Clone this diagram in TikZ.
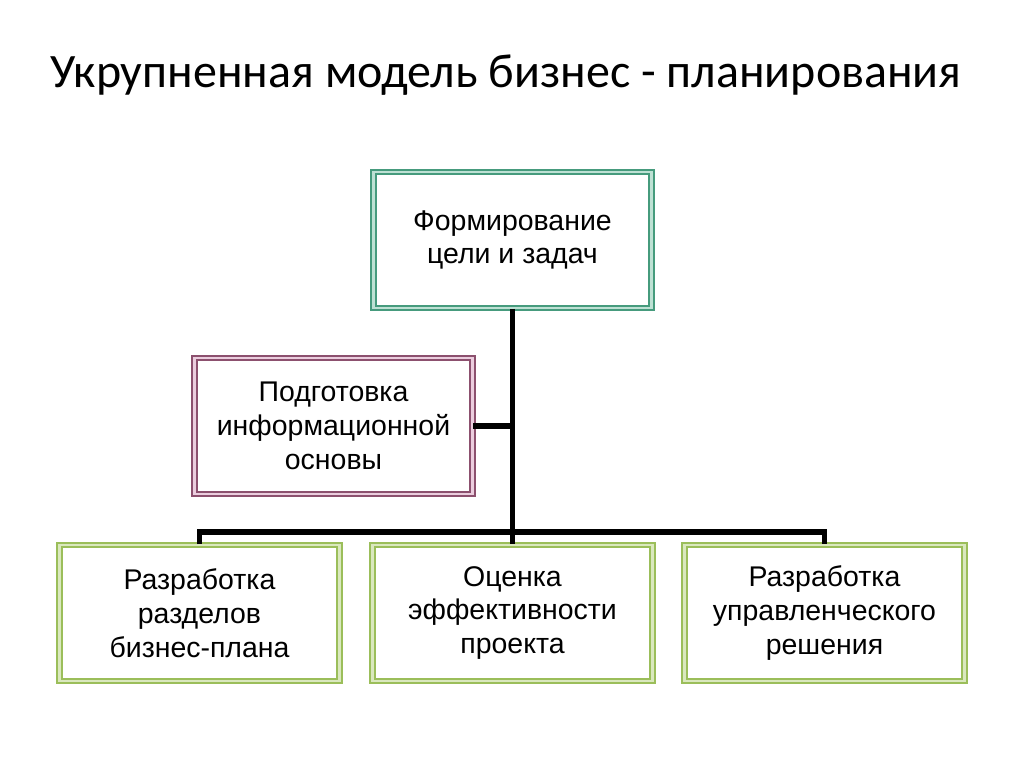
\documentclass[tikz,border=0pt]{standalone}
\usepackage{fontspec}
\setmainfont{Liberation Sans}
\newfontfamily\titlefont{Carlito}
\definecolor{tealline}{RGB}{70,155,125}
\definecolor{teallight}{RGB}{190,225,212}
\definecolor{plumline}{RGB}{140,80,110}
\definecolor{plumlight}{RGB}{235,205,222}
\definecolor{leafline}{RGB}{155,190,90}
\definecolor{leaflight}{RGB}{218,232,190}
\tikzset{
  block/.style={rectangle, align=center, font=\fontsize{16.2}{19.3}\selectfont,
    line width=1.1pt, double distance=1.6pt, minimum height=2.72cm},
  goalbox/.style={block, draw=tealline, double=teallight, minimum width=5.56cm},
  infobox/.style={block, draw=plumline, double=plumlight, minimum width=5.56cm},
  stagebox/.style={block, draw=leafline, double=leaflight, minimum width=5.6cm},
  link/.style={line width=3.2pt}
}
\begin{document}
\begin{tikzpicture}
\useasboundingbox (0,0) rectangle (20.48,15.34);
\node (title) [anchor=west, font=\titlefont\fontsize{27.3}{32}\selectfont] at (0.88,13.84)
    {Укрупненная модель бизнес - планирования};
\node (goal) [goalbox] at (10.25,10.54) {Формирование\\цели и задач};
\node (info) [infobox] at (6.67,6.82) {Подготовка\\информационной\\основы};
\node (parts) [stagebox] at (3.99,3.08) {Разработка\\разделов\\бизнес-плана};
\node (eval) [stagebox] at (10.25,3.08) {Оценка\\эффективности\\проекта};
\node (solve) [stagebox] at (16.49,3.08) {Разработка\\управленческого\\решения};
\coordinate (bus) at (10.25,4.7);
\draw[link] (goal.south) -- (eval.north);
\draw[link] (info.east) -- (info.east -| goal.south);
\draw[link] (parts.north) -- (parts.north |- bus) -- (solve.north |- bus) -- (solve.north);
\end{tikzpicture}
\end{document}
